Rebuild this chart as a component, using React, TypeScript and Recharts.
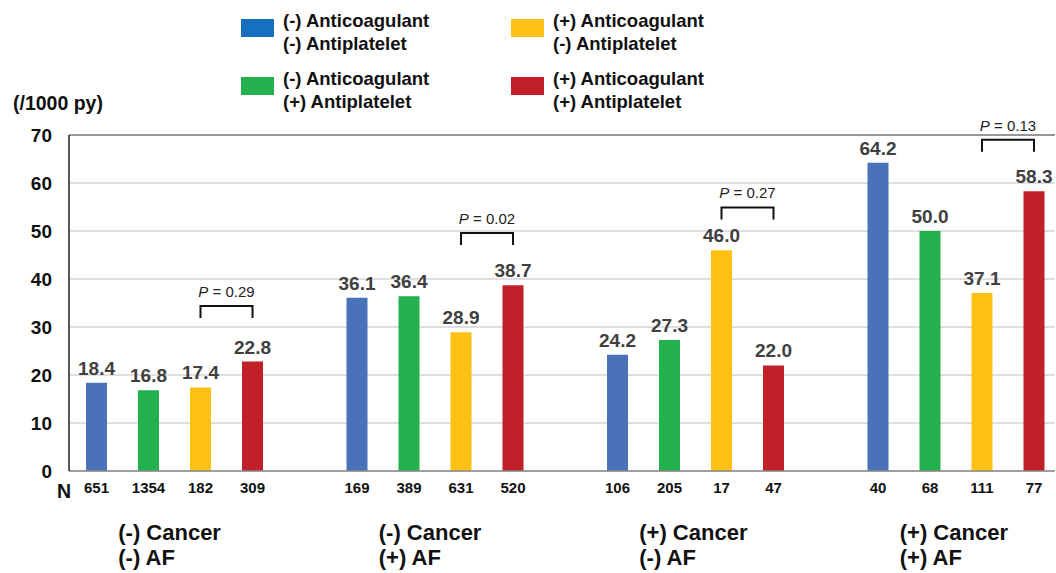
import { Bar, BarChart, CartesianGrid, LabelList, Legend, ReferenceLine, XAxis, YAxis } from 'recharts'

const groups = ['(-) Cancer\n(-) AF', '(-) Cancer\n(+) AF', '(+) Cancer\n(-) AF', '(+) Cancer\n(+) AF']

// incidence per 1000 person-years
const noneRate = [18.4, 36.1, 24.2, 64.2]
const antiplateletRate = [16.8, 36.4, 27.3, 50.0]
const anticoagRate = [17.4, 28.9, 46.0, 37.1]
const bothRate = [22.8, 38.7, 22.0, 58.3]

// patients per bar
const noneN = [651, 169, 106, 40]
const antiplateletN = [1354, 389, 205, 68]
const anticoagN = [182, 631, 17, 111]
const bothN = [309, 520, 47, 77]

// yellow vs red comparison in each group
const pValues = ['0.29', '0.02', '0.27', '0.13']
const bracketAt = [34.4, 49.6, 54.9, 69.0]

const yTicks = [0, 10, 20, 30, 40, 50, 60, 70]

const series = [
  { key: 'none', nKey: 'noneN', name: '(-) Anticoagulant\n(-) Antiplatelet', color: '#4a72b8', swatch: '#1570bd' },
  { key: 'antiplatelet', nKey: 'antiplateletN', name: '(-) Anticoagulant\n(+) Antiplatelet', color: '#22b14c', swatch: '#22b14c' },
  { key: 'anticoag', nKey: 'anticoagN', name: '(+) Anticoagulant\n(-) Antiplatelet', color: '#fdc113', swatch: '#fdc113' },
  { key: 'both', nKey: 'bothN', name: '(+) Anticoagulant\n(+) Antiplatelet', color: '#c02027', swatch: '#c02027' },
]

const data = groups.map((group, i) => ({
  group,
  none: noneRate[i],
  antiplatelet: antiplateletRate[i],
  anticoag: anticoagRate[i],
  both: bothRate[i],
  noneN: noneN[i],
  antiplateletN: antiplateletN[i],
  anticoagN: anticoagN[i],
  bothN: bothN[i],
}))

const FONT = '"Liberation Sans", Arial, sans-serif'
const BAR_SIZE = 21
const BAR_GAP = 31

function GroupTick({ x, y, payload }: any) {
  const [first, second] = String(payload.value).split('\n')
  return (
    <g fontFamily={FONT} fontSize={22} fontWeight="bold" fill="#111">
      <text x={x - 56} y={y + 69}>{first}</text>
      <text x={x - 56} y={y + 94}>{second}</text>
    </g>
  )
}

// bracket drawn from the yellow bar centre to the red bar centre
function PBracket(props: any) {
  const vb = props.viewBox ?? props
  const value = Number(props.value)
  const i = props.index ?? bothRate.indexOf(value)
  const base = vb.y + vb.height
  const top = base - (bracketAt[i] * vb.height) / value
  const right = vb.x + vb.width / 2
  const left = right - (BAR_SIZE + BAR_GAP)
  return (
    <g>
      <path d={`M${left},${top + 12} V${top} H${right} V${top + 12}`} fill="none" stroke="#111" strokeWidth={2} />
      <text x={(left + right) / 2} y={top - 9} textAnchor="middle" fontFamily={FONT} fontSize={15} fill="#222">
        <tspan fontStyle="italic">P</tspan> = {pValues[i]}
      </text>
    </g>
  )
}

function LegendBox({ payload }: any) {
  // keep the bar order: blue, green in the first column, yellow, red in the second
  const items = series.map((s) => ({ s, entry: (payload ?? []).find((p: any) => p.dataKey === s.key) }))
  return (
    <div
      style={{
        display: 'grid',
        gridTemplateColumns: '270px 270px',
        gridTemplateRows: 'auto auto',
        gridAutoFlow: 'column',
        rowGap: 13,
        fontFamily: FONT,
        fontSize: 18.5,
        fontWeight: 'bold',
        lineHeight: '22.5px',
        color: '#111',
      }}
    >
      {items.map(({ s, entry }) => (
        <div key={s.key} style={{ display: 'flex', alignItems: 'flex-start' }}>
          <span style={{ width: 33, height: 18, marginTop: 9, marginRight: 9, background: s.swatch, flex: 'none' }} />
          <span style={{ whiteSpace: 'pre-line' }}>{entry?.value ?? s.name}</span>
        </div>
      ))}
    </div>
  )
}

export default function App() {
  return (
    <div style={{ position: 'absolute', left: 0, top: 0, width: 1056, height: 573, background: '#fff' }}>
      <BarChart
        width={1056}
        height={573}
        data={data}
        margin={{ top: 135, right: 1, bottom: 12, left: 9 }}
        barSize={BAR_SIZE}
        barGap={BAR_GAP}
        style={{ fontFamily: FONT }}
      >
        <CartesianGrid vertical={false} stroke="#bfbfbf" strokeWidth={1.2} />
        <ReferenceLine y={70} stroke="#7f7f7f" strokeWidth={1.5} />
        <XAxis
          dataKey="group"
          height={90}
          interval={0}
          padding={{ left: -25, right: -31 }}
          axisLine={{ stroke: '#8a8a8a', strokeWidth: 1.5 }}
          tickLine={false}
          tickSize={0}
          tickMargin={0}
          tick={<GroupTick />}
        />
        <YAxis
          width={60}
          domain={[0, 70]}
          ticks={yTicks}
          interval={0}
          axisLine={{ stroke: '#222', strokeWidth: 1.5 }}
          tickLine={false}
          tickSize={0}
          tickMargin={17}
          tick={{ fill: '#111', fontSize: 19, fontWeight: 'bold' }}
        />
        <Legend
          layout="vertical"
          align="center"
          verticalAlign="middle"
          content={<LegendBox />}
          wrapperStyle={{ position: 'absolute', left: 241, top: 10, width: 560, height: 110 }}
        />
        {series.map((s) => (
          <Bar key={s.key} dataKey={s.key} name={s.name} fill={s.color} isAnimationActive={false}>
            <LabelList
              dataKey={s.key}
              position="top"
              offset={8}
              formatter={(v: any) => Number(v).toFixed(1)}
              fill="#404040"
              fontSize={19}
              fontWeight="bold"
            />
            <LabelList dataKey={s.nKey} position="bottom" offset={11} fill="#111" fontSize={15} fontWeight="bold" />
            {s.key === 'both' && <LabelList dataKey="both" content={<PBracket />} />}
          </Bar>
        ))}
      </BarChart>
      <svg width={1056} height={573} style={{ position: 'absolute', left: 0, top: 0, pointerEvents: 'none' }}>
        <text x={13} y={110} fontFamily={FONT} fontSize={19.5} fontWeight="bold" fill="#111">
          (/1000 py)
        </text>
        <text x={57} y={498} fontFamily={FONT} fontSize={19.5} fontWeight="bold" fill="#111">
          N
        </text>
      </svg>
    </div>
  )
}
